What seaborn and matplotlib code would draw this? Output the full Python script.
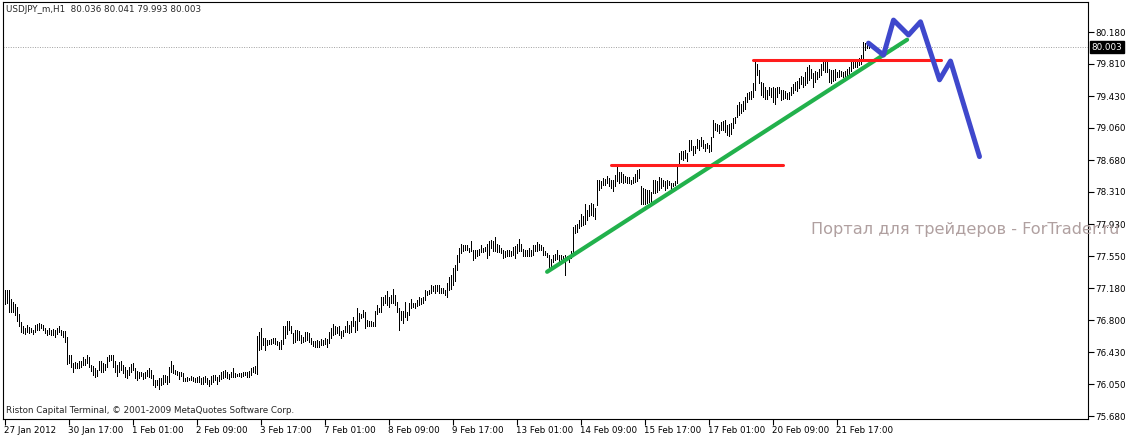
import numpy as np
import pandas as pd
import matplotlib
matplotlib.use("Agg")
import matplotlib.pyplot as plt
import matplotlib.transforms as mtransforms
import seaborn as sns

# ---------------- data (USDJPY_m, H1) ----------------
highs = [
    77.16, 77.16, 77.16, 77.05, 77.02, 76.99, 76.96, 76.88, 76.78, 76.73,
    76.71, 76.75, 76.72, 76.71, 76.69, 76.75, 76.76, 76.77, 76.76, 76.75,
    76.71, 76.69, 76.71, 76.69, 76.70, 76.69, 76.71, 76.74, 76.69, 76.68,
    76.68, 76.61, 76.40, 76.40, 76.30, 76.31, 76.30, 76.32, 76.32, 76.37,
    76.35, 76.40, 76.37, 76.28, 76.27, 76.24, 76.22, 76.32, 76.32, 76.30,
    76.29, 76.37, 76.39, 76.40, 76.40, 76.32, 76.28, 76.31, 76.32, 76.28,
    76.26, 76.22, 76.26, 76.29, 76.30, 76.24, 76.21, 76.19, 76.19, 76.18,
    76.19, 76.22, 76.24, 76.22, 76.16, 76.10, 76.10, 76.13, 76.13, 76.16,
    76.16, 76.15, 76.26, 76.32, 76.28, 76.22, 76.21, 76.19, 76.19,
    76.18, 76.13, 76.14, 76.13, 76.15, 76.14, 76.13, 76.14, 76.15, 76.12,
    76.14, 76.15, 76.12, 76.10, 76.15, 76.16, 76.16, 76.14, 76.16, 76.19,
    76.21, 76.22, 76.19, 76.17, 76.20, 76.24, 76.18, 76.17, 76.18, 76.18,
    76.20, 76.19, 76.19, 76.21, 76.24, 76.26, 76.27, 76.62, 76.67, 76.71,
    76.60, 76.59, 76.57, 76.57, 76.58, 76.59, 76.59, 76.56, 76.55, 76.57,
    76.73, 76.73, 76.79, 76.79, 76.73, 76.65, 76.69, 76.69, 76.68, 76.63,
    76.61, 76.67, 76.66, 76.65, 76.60, 76.56, 76.56, 76.57, 76.56, 76.58,
    76.57, 76.59, 76.58, 76.66, 76.71, 76.76, 76.74, 76.72, 76.73, 76.68,
    76.69, 76.73, 76.79, 76.75, 76.79, 76.84, 76.79, 76.94, 76.89, 76.88,
    76.92, 76.90, 76.80, 76.79, 76.79, 76.78, 76.91, 76.98, 76.95, 77.08,
    77.08, 77.10, 77.14, 77.08, 77.10, 77.17, 77.10, 77.02, 76.95, 76.91,
    76.91, 77.02, 76.90, 77.00, 77.05, 77.01, 77.00, 77.04, 77.07, 77.06,
    77.08, 77.16, 77.14, 77.16, 77.21, 77.20, 77.22, 77.22, 77.22, 77.18,
    77.18, 77.16, 77.24, 77.31, 77.33, 77.41, 77.45, 77.57, 77.65, 77.70,
    77.68, 77.68, 77.68, 77.65, 77.73, 77.63, 77.63, 77.63, 77.64, 77.68,
    77.65, 77.66, 77.70, 77.73, 77.74, 77.73, 77.78, 77.70, 77.69, 77.65,
    77.63, 77.61, 77.63, 77.62, 77.61, 77.66, 77.67, 77.70, 77.75, 77.70,
    77.64, 77.63, 77.63, 77.65, 77.63, 77.68, 77.69, 77.72, 77.70, 77.69,
    77.66, 77.61, 77.59, 77.57, 77.52, 77.57, 77.58, 77.62, 77.57, 77.57,
    77.55, 77.57, 77.56, 77.56, 77.61, 77.90, 77.92, 77.93, 77.98, 78.05,
    78.02, 78.16, 78.09, 78.15, 78.18, 78.17, 78.12, 78.45, 78.45, 78.43,
    78.47, 78.46, 78.49, 78.47, 78.45, 78.45, 78.50, 78.61, 78.54, 78.54,
    78.52, 78.49, 78.48, 78.48, 78.45, 78.48, 78.52, 78.56, 78.58, 78.37,
    78.35, 78.34, 78.33, 78.33, 78.31, 78.45, 78.45, 78.43, 78.48, 78.47,
    78.45, 78.43, 78.45, 78.43, 78.41, 78.41, 78.43, 78.61, 78.76, 78.79,
    78.78, 78.80, 78.76, 78.91, 78.91, 78.84, 78.85, 78.93, 78.91, 78.95,
    78.91, 78.87, 78.88, 78.86, 78.95, 79.15, 79.11, 79.10, 79.09,
    79.12, 79.14, 79.15, 79.09, 79.10, 79.11, 79.17, 79.18, 79.33, 79.36,
    79.34, 79.37, 79.42, 79.46, 79.48, 79.49, 79.58, 79.83, 79.81, 79.74,
    79.60, 79.58, 79.54, 79.50, 79.53, 79.52, 79.54, 79.52, 79.53, 79.54,
    79.50, 79.50, 79.49, 79.47, 79.48, 79.54, 79.57, 79.60, 79.61, 79.64,
    79.67, 79.65, 79.71, 79.77, 79.79, 79.75, 79.70, 79.72, 79.71, 79.75,
    79.81, 79.84, 79.83, 79.83, 79.75, 79.74, 79.74, 79.75, 79.71, 79.74,
    79.72, 79.71, 79.72, 79.75, 79.77, 79.83, 79.84, 79.85, 79.86, 79.87,
    79.91, 80.06, 80.05, 80.04, 80.041,
]
lows = [
    76.99, 77.00, 76.90, 76.90, 76.90, 76.86, 76.79, 76.74, 76.67, 76.65,
    76.64, 76.67, 76.65, 76.66, 76.64, 76.67, 76.69, 76.69, 76.71, 76.69,
    76.65, 76.63, 76.64, 76.63, 76.63, 76.61, 76.64, 76.66, 76.63, 76.61,
    76.55, 76.29, 76.30, 76.26, 76.19, 76.24, 76.24, 76.24, 76.26, 76.28,
    76.28, 76.30, 76.26, 76.21, 76.16, 76.14, 76.15, 76.22, 76.19, 76.20,
    76.22, 76.25, 76.32, 76.34, 76.25, 76.20, 76.15, 76.20, 76.22, 76.18,
    76.14, 76.12, 76.16, 76.19, 76.22, 76.12, 76.10, 76.13, 76.15, 76.11,
    76.13, 76.15, 76.14, 76.12, 76.04, 76.02, 76.04, 76.00, 76.04, 76.06,
    76.08, 76.05, 76.08, 76.20, 76.18, 76.17, 76.16, 76.11, 76.15,
    76.09, 76.09, 76.09, 76.10, 76.10, 76.09, 76.08, 76.08, 76.08, 76.05,
    76.06, 76.08, 76.05, 76.03, 76.06, 76.08, 76.10, 76.06, 76.09, 76.11,
    76.12, 76.14, 76.13, 76.11, 76.14, 76.14, 76.14, 76.15, 76.15, 76.14,
    76.15, 76.16, 76.14, 76.14, 76.16, 76.19, 76.18, 76.17, 76.45, 76.47,
    76.51, 76.45, 76.51, 76.52, 76.52, 76.53, 76.52, 76.51, 76.47, 76.47,
    76.52, 76.59, 76.64, 76.69, 76.65, 76.53, 76.55, 76.57, 76.57, 76.54,
    76.55, 76.56, 76.57, 76.55, 76.52, 76.50, 76.49, 76.49, 76.49, 76.51,
    76.51, 76.52, 76.49, 76.54, 76.60, 76.63, 76.64, 76.65, 76.63, 76.60,
    76.62, 76.66, 76.67, 76.65, 76.67, 76.73, 76.67, 76.69, 76.79, 76.83,
    76.84, 76.71, 76.73, 76.73, 76.74, 76.74, 76.74, 76.87, 76.90, 76.90,
    76.98, 77.01, 76.98, 76.96, 77.00, 77.01, 76.98, 76.90, 76.69, 76.80,
    76.77, 76.84, 76.80, 76.86, 76.95, 76.96, 76.94, 76.97, 76.98, 76.99,
    77.00, 77.04, 77.10, 77.11, 77.12, 77.14, 77.12, 77.14, 77.12, 77.12,
    77.12, 77.10, 77.07, 77.16, 77.17, 77.22, 77.26, 77.39, 77.48, 77.59,
    77.61, 77.63, 77.62, 77.60, 77.61, 77.51, 77.53, 77.55, 77.57, 77.60,
    77.60, 77.61, 77.53, 77.57, 77.65, 77.61, 77.61, 77.60, 77.60, 77.59,
    77.53, 77.54, 77.55, 77.55, 77.55, 77.57, 77.53, 77.59, 77.61, 77.61,
    77.55, 77.55, 77.55, 77.56, 77.56, 77.57, 77.61, 77.61, 77.63, 77.63,
    77.57, 77.57, 77.54, 77.41, 77.43, 77.49, 77.51, 77.52, 77.50, 77.52,
    77.49, 77.33, 77.51, 77.49, 77.53, 77.59, 77.82, 77.84, 77.88, 77.91,
    77.92, 77.93, 77.98, 78.02, 78.04, 78.02, 77.99, 78.15, 78.33, 78.35,
    78.39, 78.39, 78.41, 78.38, 78.35, 78.32, 78.37, 78.43, 78.41, 78.42,
    78.41, 78.42, 78.41, 78.41, 78.40, 78.41, 78.42, 78.43, 78.47, 78.17,
    78.17, 78.17, 78.18, 78.19, 78.19, 78.29, 78.29, 78.31, 78.33, 78.35,
    78.37, 78.33, 78.35, 78.39, 78.33, 78.37, 78.39, 78.41, 78.64, 78.69,
    78.68, 78.70, 78.67, 78.78, 78.80, 78.74, 78.76, 78.82, 78.80, 78.84,
    78.82, 78.79, 78.82, 78.77, 78.78, 78.95, 79.03, 79.02, 79.00,
    79.03, 79.03, 79.01, 78.97, 78.96, 78.99, 79.05, 79.11, 79.19, 79.21,
    79.23, 79.25, 79.28, 79.36, 79.40, 79.40, 79.42, 79.50, 79.68, 79.58,
    79.44, 79.42, 79.40, 79.40, 79.44, 79.42, 79.36, 79.34, 79.42, 79.46,
    79.38, 79.39, 79.41, 79.40, 79.40, 79.44, 79.46, 79.50, 79.49, 79.52,
    79.57, 79.53, 79.56, 79.58, 79.62, 79.64, 79.53, 79.60, 79.63, 79.65,
    79.68, 79.74, 79.71, 79.71, 79.60, 79.58, 79.61, 79.62, 79.65, 79.65,
    79.66, 79.65, 79.66, 79.64, 79.64, 79.72, 79.76, 79.77, 79.77, 79.79,
    79.81, 79.86, 79.97, 79.99, 79.993,
]

x_tick_labels = ["27 Jan 2012", "30 Jan 17:00", "1 Feb 01:00", "2 Feb 09:00",
                 "3 Feb 17:00", "7 Feb 01:00", "8 Feb 09:00", "9 Feb 17:00",
                 "13 Feb 01:00", "14 Feb 09:00", "15 Feb 17:00", "17 Feb 01:00",
                 "20 Feb 09:00", "21 Feb 17:00"]
bars_per_label = 32
y_ticks = [80.18, 79.81, 79.43, 79.06, 78.68, 78.31, 77.93, 77.55, 77.18,
           76.80, 76.43, 76.05, 75.68]

current_price = 80.003
title_text = "USDJPY_m,H1  80.036 80.041 79.993 80.003"
footer_text = "Riston Capital Terminal, \u00a9 2001-2009 MetaQuotes Software Corp."
watermark_text = "Портал для трейдеров - ForTrader.ru"

# drawn analysis lines (bar index, price)
green_x = [271.3, 451.3]
green_y = [77.37, 80.09]
red1_x = [303, 389]
red1_y = [78.62, 78.62]
red2_x = [374, 468]
red2_y = [79.85, 79.85]
blue_x = [432, 439.5, 444.5, 452, 458, 467.5, 473, 487.5]
blue_y = [80.05, 79.91, 80.32, 80.145, 80.30, 79.62, 79.84, 78.72]

# ---------------- plotting ----------------
sns.set_style("white")
plt.rcParams['font.family'] = ['DejaVu Sans']

W, H = 1127, 436
fig = plt.figure(figsize=(W / 100, H / 100), dpi=100)
ax = fig.add_axes([3 / W, 17 / H, 1085 / W, 417 / H])

df = pd.DataFrame({"bar": np.arange(len(highs)), "high": highs, "low": lows})
ax.vlines(df["bar"], df["low"], df["high"], colors="black",
          linewidth=0.55, antialiased=False, zorder=2)

ax.axhline(current_price, color="#a0a0a0", lw=0.7, ls=(0, (1, 1.5)), zorder=1)

sns.lineplot(x=green_x, y=green_y, ax=ax, color="#22b14c", lw=3.0,
             sort=False, estimator=None, zorder=3)
sns.lineplot(x=red1_x, y=red1_y, ax=ax, color="#ff1c1c", lw=2.2,
             sort=False, estimator=None, zorder=4)
sns.lineplot(x=red2_x, y=red2_y, ax=ax, color="#ff1c1c", lw=2.2,
             sort=False, estimator=None, zorder=4)
sns.lineplot(x=blue_x, y=blue_y, ax=ax, color="#3f48cc", lw=3.6,
             sort=False, estimator=None, zorder=5)

ax.set_xlim(-0.75, 541.75)
ax.set_ylim(75.645, 80.532)

ax.set_xticks(np.arange(len(x_tick_labels)) * bars_per_label)
ax.set_xticklabels(x_tick_labels)
offset = mtransforms.ScaledTranslation(2 / 100, 0, fig.dpi_scale_trans)
for lbl in ax.get_xticklabels():
    lbl.set_horizontalalignment("left")
    lbl.set_transform(lbl.get_transform() + offset)
ax.tick_params(axis="x", direction="out", length=4, width=0.8, pad=1,
               labelsize=6.3, colors="black", bottom=True)

ax.yaxis.tick_right()
ax.set_yticks(y_ticks)
ax.set_yticklabels([f"{v:.3f}" for v in y_ticks])
ax.tick_params(axis="y", direction="out", length=4, width=0.8, pad=1.5,
               labelsize=6.3, colors="black", right=True)
ax.set_xlabel("")
ax.set_ylabel("")
ax.grid(False)

for s in ax.spines.values():
    s.set_visible(True)
    s.set_color("black")
    s.set_linewidth(0.8)

# current price tag
tag_tr = mtransforms.blended_transform_factory(ax.transAxes, ax.transData)
ax.text(1 + 3.5 / 1085, current_price, "80.003", transform=tag_tr,
        color="white", fontsize=6.3, va="center", ha="left",
        bbox=dict(facecolor="black", edgecolor="black", pad=1.2), zorder=6,
        clip_on=False)

fig.text(6 / W, 1 - 10 / H, title_text, fontsize=6.3, va="center", ha="left")
fig.text(6 / W, 1 - 410 / H, footer_text, fontsize=6.3, va="center", ha="left")
fig.text(811 / W, 1 - 229 / H, watermark_text, fontsize=11.6, color="#b0a0a0",
         va="center", ha="left", zorder=10)

fig.savefig("out.png", dpi=100)
